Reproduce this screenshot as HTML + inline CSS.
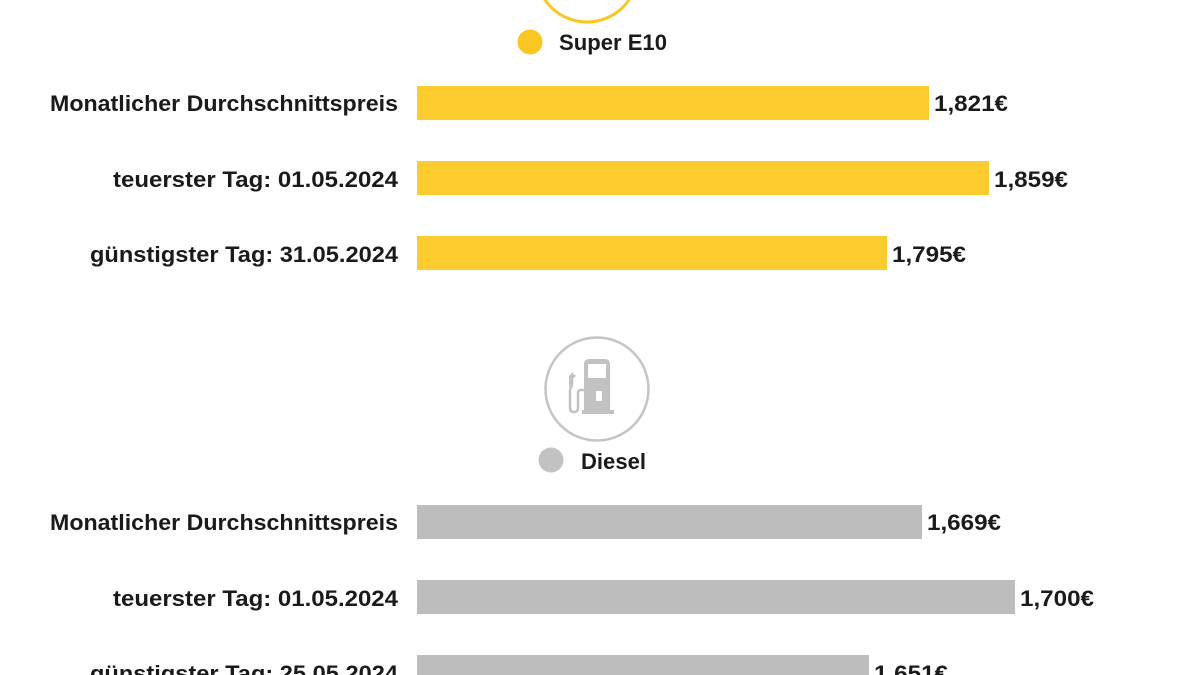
<!DOCTYPE html>
<html><head><meta charset="utf-8"><style>
html,body{margin:0;padding:0;background:#fff;width:1200px;height:675px;overflow:hidden}
text{font-family:"Liberation Sans",sans-serif;font-weight:bold;font-size:22px;fill:#1a1a1a}
</style></head><body>
<svg width="1200" height="675" viewBox="0 0 1200 675" xmlns="http://www.w3.org/2000/svg">
<circle cx="587" cy="-29" r="51" fill="none" stroke="#f9c623" stroke-width="3"/>
<circle cx="530" cy="42" r="12.5" fill="#f9c623"/>
<text x="559" y="50" font-size="21" textLength="108" lengthAdjust="spacingAndGlyphs">Super E10</text>

<text x="398" y="111" text-anchor="end" textLength="348" lengthAdjust="spacingAndGlyphs">Monatlicher Durchschnittspreis</text>
<rect x="417" y="86" width="512" height="34" fill="#fccb2e"/>
<text x="934" y="111" textLength="74" lengthAdjust="spacingAndGlyphs">1,821€</text>
<text x="398" y="187" text-anchor="end" textLength="285" lengthAdjust="spacingAndGlyphs">teuerster Tag: 01.05.2024</text>
<rect x="417" y="161" width="572" height="34" fill="#fccb2e"/>
<text x="994" y="187" textLength="74" lengthAdjust="spacingAndGlyphs">1,859€</text>
<text x="398" y="262" text-anchor="end" textLength="308" lengthAdjust="spacingAndGlyphs">günstigster Tag: 31.05.2024</text>
<rect x="417" y="236" width="470" height="34" fill="#fccb2e"/>
<text x="892" y="262" textLength="74" lengthAdjust="spacingAndGlyphs">1,795€</text>

<circle cx="597" cy="389" r="51.5" fill="none" stroke="#c4c4c4" stroke-width="2.5"/>
<g fill="#c2c2c2">
<path d="M584 364 q0-5 5-5 h16 q5 0 5 5 v48 h-26z"/>
<rect x="588" y="364" width="18" height="14" fill="#fff"/>
<rect x="596" y="391" width="6" height="10" fill="#fff"/>
<rect x="582" y="410" width="32" height="4"/>
</g>
<path d="M584 390 h-3 q-3 0-3 3 v15 q0 4-4 4 q-4 0-4-4 v-18 l2-5 v-7 l3-3" fill="none" stroke="#c2c2c2" stroke-width="2.5"/>
<path d="M569 376 l4-4 v8 l-4 8z" fill="#c2c2c2"/>
<circle cx="551" cy="460" r="12.5" fill="#c2c2c2"/>
<text x="581" y="469" font-size="21" textLength="65" lengthAdjust="spacingAndGlyphs">Diesel</text>

<text x="398" y="530" text-anchor="end" textLength="348" lengthAdjust="spacingAndGlyphs">Monatlicher Durchschnittspreis</text>
<rect x="417" y="505" width="505" height="34" fill="#bdbdbd"/>
<text x="927" y="530" textLength="74" lengthAdjust="spacingAndGlyphs">1,669€</text>
<text x="398" y="606" text-anchor="end" textLength="285" lengthAdjust="spacingAndGlyphs">teuerster Tag: 01.05.2024</text>
<rect x="417" y="580" width="598" height="34" fill="#bdbdbd"/>
<text x="1020" y="606" textLength="74" lengthAdjust="spacingAndGlyphs">1,700€</text>
<text x="398" y="681" text-anchor="end" textLength="308" lengthAdjust="spacingAndGlyphs">günstigster Tag: 25.05.2024</text>
<rect x="417" y="655" width="452" height="34" fill="#bdbdbd"/>
<text x="874" y="681" textLength="74" lengthAdjust="spacingAndGlyphs">1,651€</text>
</svg>
</body></html>
